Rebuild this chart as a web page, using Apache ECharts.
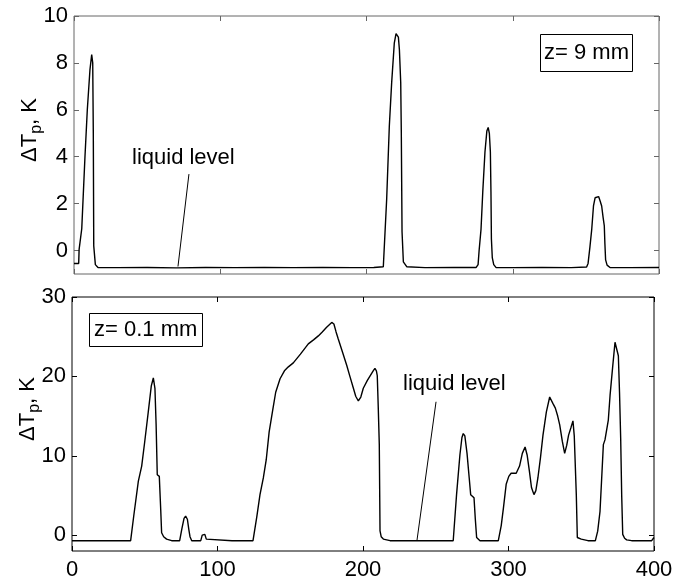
<!DOCTYPE html>
<html>
<head>
<meta charset="utf-8">
<script src="https://cdn.jsdelivr.net/npm/echarts@6/dist/echarts.min.js"></script>
<style>
  html, body { margin: 0; padding: 0; background: #fff; }
  #chart { width: 685px; height: 581px; }
</style>
</head>
<body>
<div id="chart"></div>
<script>
// time axis (s) shared by both panels
const xTicks = [0, 100, 200, 300, 400];
const topYTicks = [0, 2, 4, 6, 8, 10];
const bottomYTicks = [0, 10, 20, 30];

// z = 9 mm trace, [t, dT]
const traceTop = [
  [0, -0.55], [3.2, -0.55], [3.5, 0.05], [5.3, 0.93], [7.5, 4.0], [9.1, 6.0],
  [10.9, 7.7], [12.1, 8.35], [12.8, 8.0], [13.2, 5.0], [13.5, 0.2], [14.6, -0.6],
  [16.4, -0.72], [30, -0.73], [50, -0.72], [70, -0.74], [90, -0.72], [110, -0.73],
  [130, -0.72], [150, -0.73], [170, -0.72], [190, -0.73], [205, -0.72], [211.5, -0.69],
  [213.8, 2.2], [215.6, 5.3], [217.2, 7.15], [219, 8.84], [220.2, 9.25], [221.1, 9.31],
  [221.8, 9.1], [222.5, 8.56], [223.4, 7.15], [223.8, 5.03], [224.3, 0.8], [225.2, -0.48],
  [227.5, -0.69], [240, -0.73], [260, -0.72], [275, -0.72], [276.3, -0.6], [277, 0],
  [278.3, 0.9], [279.5, 2.5], [281, 4.2], [282.3, 5.1], [283.2, 5.25], [284, 5.0],
  [284.7, 4.2], [285.1, 2.5], [285.4, 0.5], [286, -0.3], [287, -0.6], [288.5, -0.72],
  [300, -0.73], [320, -0.72], [340, -0.73], [350.5, -0.7], [351.5, -0.55], [352.8, 0.17],
  [354, 0.9], [355.2, 1.9], [356.3, 2.25], [357.5, 2.33], [358.7, 2.3], [359.8, 2.1],
  [360.8, 1.9], [361.8, 1.4], [362.6, 1.05], [363, 0.3], [363.5, -0.4], [364.5, -0.62],
  [366.5, -0.72], [380, -0.73], [400, -0.72]
];

// z = 0.1 mm trace, [t, dT]
const traceBottom = [
  [0, -0.7], [20, -0.7], [40.3, -0.7], [42.5, 2.5], [45.6, 6.8], [47.9, 8.7],
  [50, 11.8], [52.4, 15.5], [54.5, 18.8], [55.9, 19.8], [57, 18.5], [57.8, 14],
  [58.6, 7.6], [60, 7.4], [61, 3.1], [61.6, 0.3], [63, -0.2], [65, -0.5], [68.5, -0.7],
  [74, -0.7], [75.5, 0.8], [77, 2.1], [78.1, 2.4], [79.3, 2.0], [80.3, 0.7], [81.1, -0.2],
  [82.3, -0.7], [88.5, -0.7], [89.5, 0.0], [90.3, 0.25], [91.3, 0.1], [92.3, -0.5],
  [93.5, -0.7], [110, -0.7], [124.4, -0.7], [127, 2.3], [129.2, 5.1], [131.5, 7.2],
  [133.5, 9.5], [135.5, 13], [138, 15.8], [140, 18], [143, 19.7], [146, 20.7],
  [148.7, 21.2], [152.1, 21.7], [157, 22.8], [162.4, 24.1], [166, 24.6], [169.3, 25.1],
  [172, 25.6], [175, 26.2], [178.5, 26.8], [180, 26.6], [181.5, 25.6], [183, 24.7],
  [186, 23], [188.8, 21.4], [191, 20], [193.4, 18.5], [195, 17.5], [196.8, 16.9],
  [198.5, 17.4], [200.2, 18.5], [203, 19.5], [205, 20.1], [207, 20.7], [208.2, 21],
  [209.2, 20.7], [209.8, 20.1], [210.5, 16], [211.2, 11.4], [211.7, 0.55], [212.5, -0.2],
  [214, -0.5], [218.6, -0.7], [240, -0.7], [262, -0.7], [264.3, 5.1], [266.6, 10.1],
  [268, 12.3], [268.9, 12.8], [270, 12.5], [271.5, 10.3], [273, 7.2], [274, 5.1],
  [274.6, 4.9], [276.3, 4.7], [277.2, 2], [278.1, -0.3], [280.4, -0.7], [293, -0.7],
  [295, 1.2], [296.5, 3.4], [298.4, 6.4], [300.2, 7.4], [301.8, 7.8], [305.3, 7.8],
  [307.6, 8.7], [309.5, 10.3], [311.4, 11.1], [312.8, 10.1], [314.4, 8.0], [315.8, 6.0],
  [317.5, 5.1], [318.8, 5.6], [320.2, 7.2], [322, 9.8], [323.7, 12.6], [326, 15.5],
  [328.3, 17.4], [329.3, 17.3], [330.5, 16.6], [332.2, 16], [333.8, 15], [335.2, 13.9],
  [337, 11.8], [338.6, 10.3], [340, 11.3], [341.3, 12.6], [343, 13.6], [344.3, 14.4],
  [345.2, 12.5], [346.6, 5.1], [347.3, -0.3], [350, -0.5], [354.6, -0.7], [359.7, -0.7],
  [361.3, 0.5], [362.9, 3.0], [364, 7], [365.2, 11.4], [366.3, 12], [367.5, 12.2],
  [368.6, 14.5], [369.8, 17.6], [371.5, 21], [373.2, 24.3], [374.3, 24.2], [375.5, 22.6],
  [376.3, 18], [377.1, 12.2], [377.8, 5], [378.5, 0.1], [379.8, -0.4], [381.2, -0.6],
  [384.6, -0.7], [398.4, -0.7], [400, -0.3]
];

// "liquid level" leader lines, [from, to] in data units
const leaderTop = [[78.6, 3.26], [71.1, -0.68]];
const leaderBottom = [[250.2, 16.8], [237.1, -0.66]];

const FONT = "'Liberation Sans', Arial, sans-serif";
const chart = echarts.init(document.getElementById("chart"), null, { renderer: "canvas" });

function xAxisFor(grid, pos, color, labels) {
  return {
    type: "value", gridIndex: grid, position: pos, min: 0, max: 400, interval: 100,
    axisLine: { show: false, onZero: false },
    splitLine: { show: false },
    axisTick: { show: true, inside: true, length: 5, lineStyle: { color } },
    axisLabel: { show: labels, margin: 8, color: "#000", fontSize: 22, fontFamily: FONT,
      customValues: xTicks },
  };
}

function yAxisFor(grid, pos, min, max, ticks, color, name) {
  const ax = {
    type: "value", gridIndex: grid, position: pos, min, max,
    axisLine: { show: false, onZero: false },
    splitLine: { show: false },
    axisTick: { show: true, inside: true, length: 5, customValues: ticks, lineStyle: { color } },
    axisLabel: { show: pos === "left", margin: 6, color: "#000", fontSize: 22, fontFamily: FONT,
      customValues: ticks },
  };
  if (name) {
    ax.name = "{a|ΔT}{s|p}{a|, K}";
    ax.nameLocation = "middle";
    ax.nameRotate = 90;
    ax.nameGap = 29;
    ax.nameMoveOverlap = false;
    ax.nameTextStyle = {
      padding: [0, 0, 0, 30],
      rich: {
        a: { fontSize: 22, fontFamily: FONT, color: "#000" },
        s: { fontSize: 16, fontFamily: FONT, color: "#000", padding: [14, 0, 0, 0] },
      },
    };
  }
  return ax;
}

function leader(pair) {
  return {
    silent: true, symbol: "none", animation: false,
    lineStyle: { color: "#000", width: 1, type: "solid" },
    label: { show: false },
    data: [[{ coord: pair[0] }, { coord: pair[1] }]],
  };
}

chart.setOption({
  animation: false,
  backgroundColor: "#fff",
  grid: [
    { left: 74, top: 16, width: 585, height: 258, show: true, borderColor: "#666", borderWidth: 1 },
    { left: 72, top: 297, width: 582, height: 256, show: true, borderColor: "#000", borderWidth: 1 },
  ],
  title: [
    { text: "z= 9 mm", left: 540, top: 34, borderColor: "#000", borderWidth: 1,
      padding: [8, 4, 8, 4],
      textStyle: { fontSize: 22, fontWeight: "normal", fontFamily: FONT, color: "#000" } },
    { text: "z= 0.1 mm", left: 89, top: 313, borderColor: "#000", borderWidth: 1,
      padding: [6, 5, 6, 5],
      textStyle: { fontSize: 22, fontWeight: "normal", fontFamily: FONT, color: "#000" } },
  ],
  graphic: [
    { type: "text", left: 132, top: 147,
      style: { text: "liquid level", font: "22px " + FONT, fill: "#000" } },
    { type: "text", left: 403, top: 373,
      style: { text: "liquid level", font: "22px " + FONT, fill: "#000" } },
  ],
  xAxis: [
    xAxisFor(0, "bottom", "#666", false),
    xAxisFor(0, "top", "#666", false),
    xAxisFor(1, "bottom", "#000", true),
    xAxisFor(1, "top", "#000", false),
  ],
  yAxis: [
    yAxisFor(0, "left", -1, 10, topYTicks, "#666", true),
    yAxisFor(0, "right", -1, 10, topYTicks, "#666", false),
    yAxisFor(1, "left", -2, 30, bottomYTicks, "#000", true),
    yAxisFor(1, "right", -2, 30, bottomYTicks, "#000", false),
  ],
  series: [
    { type: "line", xAxisIndex: 0, yAxisIndex: 0, data: traceTop, showSymbol: false,
      lineStyle: { color: "#000", width: 1.4 }, markLine: leader(leaderTop) },
    { type: "line", xAxisIndex: 2, yAxisIndex: 2, data: traceBottom, showSymbol: false,
      lineStyle: { color: "#000", width: 1.4 }, markLine: leader(leaderBottom) },
  ],
});
</script>
</body>
</html>
